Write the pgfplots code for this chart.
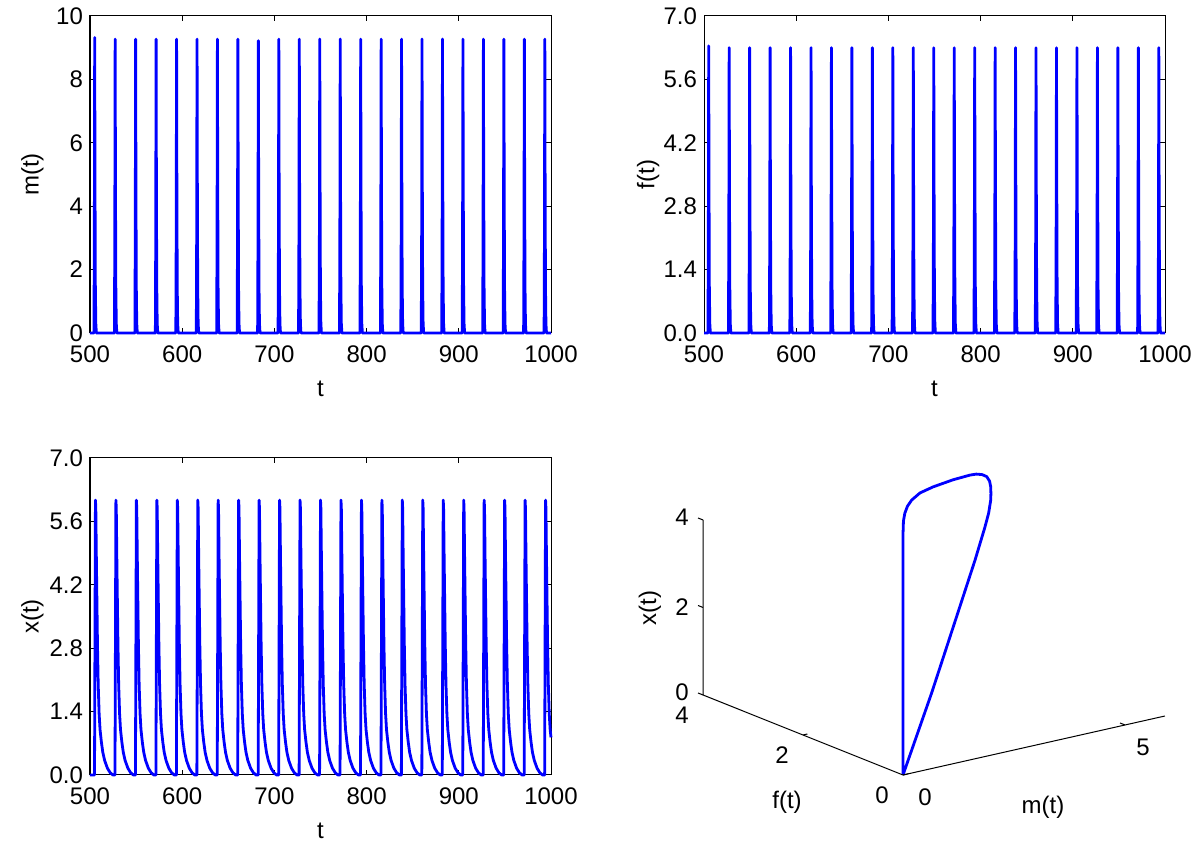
\documentclass[border=0pt]{standalone}
\usepackage{pgfplots}
\usepackage{pgfplotstable}
\pgfplotsset{compat=1.18}
\usepackage{fontspec}
\setmainfont{Liberation Sans}
\definecolor{mblue}{RGB}{0,0,255}

\pgfplotstableread[row sep=\\]{
t m f\\
500 0 0\\
504.3 0 0\\ 504.7 3.0 2.0\\ 505.1 9.32 6.34\\ 505.4 5.0 3.4\\ 505.8 1.5 1.0\\ 506.3 0.3 0.2\\ 506.9 0 0\\
526.5 0 0\\ 526.9 3.0 2.0\\ 527.3 9.27 6.30\\ 527.6 5.0 3.4\\ 528.0 1.5 1.0\\ 528.5 0.3 0.2\\ 529.1 0 0\\
548.7 0 0\\ 549.1 3.0 2.0\\ 549.5 9.27 6.30\\ 549.8 5.0 3.4\\ 550.2 1.5 1.0\\ 550.7 0.3 0.2\\ 551.3 0 0\\
570.9 0 0\\ 571.3 3.0 2.0\\ 571.7 9.27 6.30\\ 572.0 5.0 3.4\\ 572.4 1.5 1.0\\ 572.9 0.3 0.2\\ 573.5 0 0\\
593.1 0 0\\ 593.5 3.0 2.0\\ 593.9 9.27 6.30\\ 594.2 5.0 3.4\\ 594.6 1.5 1.0\\ 595.1 0.3 0.2\\ 595.7 0 0\\
615.3 0 0\\ 615.7 3.0 2.0\\ 616.1 9.27 6.30\\ 616.4 5.0 3.4\\ 616.8 1.5 1.0\\ 617.3 0.3 0.2\\ 617.9 0 0\\
637.4 0 0\\ 637.8 3.0 2.0\\ 638.2 9.27 6.30\\ 638.5 5.0 3.4\\ 638.9 1.5 1.0\\ 639.4 0.3 0.2\\ 640.0 0 0\\
659.6 0 0\\ 660.0 3.0 2.0\\ 660.4 9.27 6.30\\ 660.7 5.0 3.4\\ 661.1 1.5 1.0\\ 661.6 0.3 0.2\\ 662.2 0 0\\
681.8 0 0\\ 682.2 3.0 2.0\\ 682.6 9.22 6.30\\ 682.9 5.0 3.4\\ 683.3 1.5 1.0\\ 683.8 0.3 0.2\\ 684.4 0 0\\
704.0 0 0\\ 704.4 3.0 2.0\\ 704.8 9.27 6.30\\ 705.1 5.0 3.4\\ 705.5 1.5 1.0\\ 706.0 0.3 0.2\\ 706.6 0 0\\
726.2 0 0\\ 726.6 3.0 2.0\\ 727.0 9.27 6.30\\ 727.3 5.0 3.4\\ 727.7 1.5 1.0\\ 728.2 0.3 0.2\\ 728.8 0 0\\
748.4 0 0\\ 748.8 3.0 2.0\\ 749.2 9.27 6.30\\ 749.5 5.0 3.4\\ 749.9 1.5 1.0\\ 750.4 0.3 0.2\\ 751.0 0 0\\
770.6 0 0\\ 771.0 3.0 2.0\\ 771.4 9.27 6.30\\ 771.7 5.0 3.4\\ 772.1 1.5 1.0\\ 772.6 0.3 0.2\\ 773.2 0 0\\
792.8 0 0\\ 793.2 3.0 2.0\\ 793.6 9.27 6.30\\ 793.9 5.0 3.4\\ 794.3 1.5 1.0\\ 794.8 0.3 0.2\\ 795.4 0 0\\
815.0 0 0\\ 815.4 3.0 2.0\\ 815.8 9.27 6.30\\ 816.1 5.0 3.4\\ 816.5 1.5 1.0\\ 817.0 0.3 0.2\\ 817.6 0 0\\
837.1 0 0\\ 837.5 3.0 2.0\\ 837.9 9.27 6.30\\ 838.2 5.0 3.4\\ 838.6 1.5 1.0\\ 839.1 0.3 0.2\\ 839.7 0 0\\
859.3 0 0\\ 859.7 3.0 2.0\\ 860.1 9.27 6.30\\ 860.4 5.0 3.4\\ 860.8 1.5 1.0\\ 861.3 0.3 0.2\\ 861.9 0 0\\
881.5 0 0\\ 881.9 3.0 2.0\\ 882.3 9.27 6.30\\ 882.6 5.0 3.4\\ 883.0 1.5 1.0\\ 883.5 0.3 0.2\\ 884.1 0 0\\
903.7 0 0\\ 904.1 3.0 2.0\\ 904.5 9.27 6.30\\ 904.8 5.0 3.4\\ 905.2 1.5 1.0\\ 905.7 0.3 0.2\\ 906.3 0 0\\
925.9 0 0\\ 926.3 3.0 2.0\\ 926.7 9.27 6.30\\ 927.0 5.0 3.4\\ 927.4 1.5 1.0\\ 927.9 0.3 0.2\\ 928.5 0 0\\
948.1 0 0\\ 948.5 3.0 2.0\\ 948.9 9.27 6.30\\ 949.2 5.0 3.4\\ 949.6 1.5 1.0\\ 950.1 0.3 0.2\\ 950.7 0 0\\
970.3 0 0\\ 970.7 3.0 2.0\\ 971.1 9.27 6.30\\ 971.4 5.0 3.4\\ 971.8 1.5 1.0\\ 972.3 0.3 0.2\\ 972.9 0 0\\
992.5 0 0\\ 992.9 3.0 2.0\\ 993.3 9.27 6.30\\ 993.6 5.0 3.4\\ 994.0 1.5 1.0\\ 994.5 0.3 0.2\\ 995.1 0 0\\
1000 0 0\\
}\mftable

\pgfplotstableread[row sep=\\]{
t x\\
500 0\\
504.9 0\\ 505.4 3.0\\ 505.9 6.07\\ 506.3 5.9\\ 506.9 4.8\\ 507.4 4.0\\ 508.1 2.9\\ 508.9 2.0\\ 509.9 1.35\\ 510.9 1.0\\ 512.4 0.72\\ 513.9 0.5\\ 515.9 0.32\\ 518.9 0.15\\ 521.9 0.05\\ 524.9 0\\
527.1 0\\ 527.6 3.0\\ 528.1 6.07\\ 528.5 5.9\\ 529.1 4.8\\ 529.6 4.0\\ 530.3 2.9\\ 531.1 2.0\\ 532.1 1.35\\ 533.1 1.0\\ 534.6 0.72\\ 536.1 0.5\\ 538.1 0.32\\ 541.1 0.15\\ 544.1 0.05\\ 547.1 0\\
549.3 0\\ 549.8 3.0\\ 550.3 6.07\\ 550.7 5.9\\ 551.3 4.8\\ 551.8 4.0\\ 552.5 2.9\\ 553.3 2.0\\ 554.3 1.35\\ 555.3 1.0\\ 556.8 0.72\\ 558.3 0.5\\ 560.3 0.32\\ 563.3 0.15\\ 566.3 0.05\\ 569.3 0\\
571.5 0\\ 572.0 3.0\\ 572.5 6.07\\ 572.9 5.9\\ 573.5 4.8\\ 574.0 4.0\\ 574.7 2.9\\ 575.5 2.0\\ 576.5 1.35\\ 577.5 1.0\\ 579.0 0.72\\ 580.5 0.5\\ 582.5 0.32\\ 585.5 0.15\\ 588.5 0.05\\ 591.5 0\\
593.7 0\\ 594.2 3.0\\ 594.7 6.07\\ 595.1 5.9\\ 595.7 4.8\\ 596.2 4.0\\ 596.9 2.9\\ 597.7 2.0\\ 598.7 1.35\\ 599.7 1.0\\ 601.2 0.72\\ 602.7 0.5\\ 604.7 0.32\\ 607.7 0.15\\ 610.7 0.05\\ 613.7 0\\
615.9 0\\ 616.4 3.0\\ 616.9 6.07\\ 617.3 5.9\\ 617.9 4.8\\ 618.4 4.0\\ 619.1 2.9\\ 619.9 2.0\\ 620.9 1.35\\ 621.9 1.0\\ 623.4 0.72\\ 624.9 0.5\\ 626.9 0.32\\ 629.9 0.15\\ 632.9 0.05\\ 635.9 0\\
638.0 0\\ 638.5 3.0\\ 639.0 6.07\\ 639.4 5.9\\ 640.0 4.8\\ 640.5 4.0\\ 641.2 2.9\\ 642.0 2.0\\ 643.0 1.35\\ 644.0 1.0\\ 645.5 0.72\\ 647.0 0.5\\ 649.0 0.32\\ 652.0 0.15\\ 655.0 0.05\\ 658.0 0\\
660.2 0\\ 660.7 3.0\\ 661.2 6.07\\ 661.6 5.9\\ 662.2 4.8\\ 662.7 4.0\\ 663.4 2.9\\ 664.2 2.0\\ 665.2 1.35\\ 666.2 1.0\\ 667.7 0.72\\ 669.2 0.5\\ 671.2 0.32\\ 674.2 0.15\\ 677.2 0.05\\ 680.2 0\\
682.4 0\\ 682.9 3.0\\ 683.4 6.07\\ 683.8 5.9\\ 684.4 4.8\\ 684.9 4.0\\ 685.6 2.9\\ 686.4 2.0\\ 687.4 1.35\\ 688.4 1.0\\ 689.9 0.72\\ 691.4 0.5\\ 693.4 0.32\\ 696.4 0.15\\ 699.4 0.05\\ 702.4 0\\
704.6 0\\ 705.1 3.0\\ 705.6 6.07\\ 706.0 5.9\\ 706.6 4.8\\ 707.1 4.0\\ 707.8 2.9\\ 708.6 2.0\\ 709.6 1.35\\ 710.6 1.0\\ 712.1 0.72\\ 713.6 0.5\\ 715.6 0.32\\ 718.6 0.15\\ 721.6 0.05\\ 724.6 0\\
726.8 0\\ 727.3 3.0\\ 727.8 6.07\\ 728.2 5.9\\ 728.8 4.8\\ 729.3 4.0\\ 730.0 2.9\\ 730.8 2.0\\ 731.8 1.35\\ 732.8 1.0\\ 734.3 0.72\\ 735.8 0.5\\ 737.8 0.32\\ 740.8 0.15\\ 743.8 0.05\\ 746.8 0\\
749.0 0\\ 749.5 3.0\\ 750.0 6.07\\ 750.4 5.9\\ 751.0 4.8\\ 751.5 4.0\\ 752.2 2.9\\ 753.0 2.0\\ 754.0 1.35\\ 755.0 1.0\\ 756.5 0.72\\ 758.0 0.5\\ 760.0 0.32\\ 763.0 0.15\\ 766.0 0.05\\ 769.0 0\\
771.2 0\\ 771.7 3.0\\ 772.2 6.07\\ 772.6 5.9\\ 773.2 4.8\\ 773.7 4.0\\ 774.4 2.9\\ 775.2 2.0\\ 776.2 1.35\\ 777.2 1.0\\ 778.7 0.72\\ 780.2 0.5\\ 782.2 0.32\\ 785.2 0.15\\ 788.2 0.05\\ 791.2 0\\
793.4 0\\ 793.9 3.0\\ 794.4 6.07\\ 794.8 5.9\\ 795.4 4.8\\ 795.9 4.0\\ 796.6 2.9\\ 797.4 2.0\\ 798.4 1.35\\ 799.4 1.0\\ 800.9 0.72\\ 802.4 0.5\\ 804.4 0.32\\ 807.4 0.15\\ 810.4 0.05\\ 813.4 0\\
815.6 0\\ 816.1 3.0\\ 816.6 6.07\\ 817.0 5.9\\ 817.6 4.8\\ 818.1 4.0\\ 818.8 2.9\\ 819.6 2.0\\ 820.6 1.35\\ 821.6 1.0\\ 823.1 0.72\\ 824.6 0.5\\ 826.6 0.32\\ 829.6 0.15\\ 832.6 0.05\\ 835.6 0\\
837.7 0\\ 838.2 3.0\\ 838.7 6.07\\ 839.1 5.9\\ 839.7 4.8\\ 840.2 4.0\\ 840.9 2.9\\ 841.7 2.0\\ 842.7 1.35\\ 843.7 1.0\\ 845.2 0.72\\ 846.7 0.5\\ 848.7 0.32\\ 851.7 0.15\\ 854.7 0.05\\ 857.7 0\\
859.9 0\\ 860.4 3.0\\ 860.9 6.07\\ 861.3 5.9\\ 861.9 4.8\\ 862.4 4.0\\ 863.1 2.9\\ 863.9 2.0\\ 864.9 1.35\\ 865.9 1.0\\ 867.4 0.72\\ 868.9 0.5\\ 870.9 0.32\\ 873.9 0.15\\ 876.9 0.05\\ 879.9 0\\
882.1 0\\ 882.6 3.0\\ 883.1 6.07\\ 883.5 5.9\\ 884.1 4.8\\ 884.6 4.0\\ 885.3 2.9\\ 886.1 2.0\\ 887.1 1.35\\ 888.1 1.0\\ 889.6 0.72\\ 891.1 0.5\\ 893.1 0.32\\ 896.1 0.15\\ 899.1 0.05\\ 902.1 0\\
904.3 0\\ 904.8 3.0\\ 905.3 6.07\\ 905.7 5.9\\ 906.3 4.8\\ 906.8 4.0\\ 907.5 2.9\\ 908.3 2.0\\ 909.3 1.35\\ 910.3 1.0\\ 911.8 0.72\\ 913.3 0.5\\ 915.3 0.32\\ 918.3 0.15\\ 921.3 0.05\\ 924.3 0\\
926.5 0\\ 927.0 3.0\\ 927.5 6.07\\ 927.9 5.9\\ 928.5 4.8\\ 929.0 4.0\\ 929.7 2.9\\ 930.5 2.0\\ 931.5 1.35\\ 932.5 1.0\\ 934.0 0.72\\ 935.5 0.5\\ 937.5 0.32\\ 940.5 0.15\\ 943.5 0.05\\ 946.5 0\\
948.7 0\\ 949.2 3.0\\ 949.7 6.07\\ 950.1 5.9\\ 950.7 4.8\\ 951.2 4.0\\ 951.9 2.9\\ 952.7 2.0\\ 953.7 1.35\\ 954.7 1.0\\ 956.2 0.72\\ 957.7 0.5\\ 959.7 0.32\\ 962.7 0.15\\ 965.7 0.05\\ 968.7 0\\
970.9 0\\ 971.4 3.0\\ 971.9 6.07\\ 972.3 5.9\\ 972.9 4.8\\ 973.4 4.0\\ 974.1 2.9\\ 974.9 2.0\\ 975.9 1.35\\ 976.9 1.0\\ 978.4 0.72\\ 979.9 0.5\\ 981.9 0.32\\ 984.9 0.15\\ 987.9 0.05\\ 990.9 0\\
993.1 0\\ 993.6 3.0\\ 994.1 6.07\\ 994.5 5.9\\ 995.1 4.8\\ 995.6 4.0\\ 996.3 2.9\\ 997.1 2.0\\ 998.1 1.35\\ 999.1 1.0\\ 1000 0.83\\
}\xtable

\pgfplotstableread[row sep=\\]{
m f x\\
0 0 0\\
0 0 5.5\\
0.01 0 5.8\\
0.04 0 5.97\\
0.1 0 6.12\\
0.196 0 6.24\\
0.383 0 6.36\\
0.676 0 6.43\\
1.126 0 6.49\\
1.509 0 6.51\\
1.65 0 6.50\\
1.78 0 6.46\\
1.885 0 6.39\\
1.95 0 6.27\\
1.975 0 6.14\\
1.98 0 5.98\\
1.975 0 5.83\\
1.93 0 5.55\\
1.847 0 5.25\\
1.622 0 4.54\\
1.133 0 3.13\\
0.646 0 1.73\\
0 0 0\\
}\looptable

\pgfplotsset{
  ts/.style={
    scale only axis, width=230.5pt, height=158.5pt,
    xmin=500, xmax=1000, xtick={500,600,...,1000},
    clip=false, tick align=inside, major tick length=2.4pt,
    axis line style={line width=0.5pt},
    every tick/.style={black, line width=0.5pt},
    /pgf/number format/assume math mode=true,
    /pgf/number format/1000 sep={},
    scaled ticks=false,
    tick label style={font=\fontsize{12pt}{14pt}\selectfont},
    label style={font=\fontsize{12pt}{14pt}\selectfont},
    xlabel={t},
    xlabel style={at={(axis description cs:0.5,-0.175)}, anchor=center},
    ylabel style={at={(axis description cs:-0.125,0.5)}, anchor=center},
    xticklabel style={yshift=-3pt},
  },
  dec/.style={
    ymin=0, ymax=7, ytick={0,1.4,2.8,4.2,5.6,7.0},
    yticklabel style={/pgf/number format/fixed, /pgf/number format/fixed zerofill, /pgf/number format/precision=1},
  },
  dline/.style={mblue, line width=1.4pt, line join=round, no marks},
}

\begin{document}
\begin{tikzpicture}
\useasboundingbox (0,0) rectangle (600pt,428pt);

% top-left: m(t)
\begin{axis}[ts, at={(45pt,261.5pt)}, anchor=south west,
  ymin=0, ymax=10, ytick={0,2,...,10}, ylabel={m(t)}]
\addplot[dline] table[x=t, y=m] {\mftable};
\end{axis}

% top-right: f(t)
\begin{axis}[ts, dec, at={(352pt,261.5pt)}, anchor=south west,
  ylabel={f(t)}, ylabel style={at={(axis description cs:-0.121,0.5)}}]
\addplot[dline] table[x=t, y=f] {\mftable};
\end{axis}

% bottom-left: x(t)
\begin{axis}[ts, dec, at={(45pt,40.5pt)}, anchor=south west,
  ylabel={x(t)}]
\addplot[dline] table[x=t, y=x] {\xtable};
\end{axis}

% bottom-right: 3D phase portrait
\begin{axis}[at={(451.5pt,40.5pt)}, anchor=origin,
  x={(22.2pt,5pt)}, y={(-25pt,10pt)}, z={(0pt,21.875pt)},
  xmin=0, xmax=5.9, ymin=0, ymax=4, zmin=0, zmax=4,
  hide axis, clip=false]
\addplot3[dline] table[x=m, y=f, z=x] {\looptable};
\draw[line width=0.5pt] (axis cs:5.9,0,0) -- (axis cs:0,0,0) -- (axis cs:0,4,0) -- (axis cs:0,4,4);
\draw[line width=0.5pt] (axis cs:0,4,0) -- (axis cs:0,4.1,0);
\draw[line width=0.5pt] (axis cs:0,4,2) -- (axis cs:0,4.1,2);
\draw[line width=0.5pt] (axis cs:0,4,4) -- (axis cs:0,4.1,4);
\draw[line width=0.5pt] (axis cs:0,2,0) -- (axis cs:0.1,2,0);
\draw[line width=0.5pt] (axis cs:0,0,0) -- (axis cs:0.12,0,0);
\draw[line width=0.5pt] (axis cs:5,0,0) -- (axis cs:5,0.1,0);
\end{axis}

% 3D tick labels and axis labels
\begin{scope}[every node/.style={font=\fontsize{12pt}{14pt}\selectfont, inner sep=0pt}]
\node at (341pt,169.5pt) {4};
\node at (341pt,124.5pt) {2};
\node at (341pt,82pt) {0};
\node at (341pt,70.5pt) {4};
\node at (391pt,50.5pt) {2};
\node at (441pt,30.5pt) {0};
\node at (462.5pt,29.5pt) {0};
\node at (571.5pt,54.5pt) {5};
\node[rotate=90] at (325pt,124pt) {x(t)};
\node at (393.5pt,27pt) {f(t)};
\node at (521.5pt,24.5pt) {m(t)};
\end{scope}
\end{tikzpicture}
\end{document}
